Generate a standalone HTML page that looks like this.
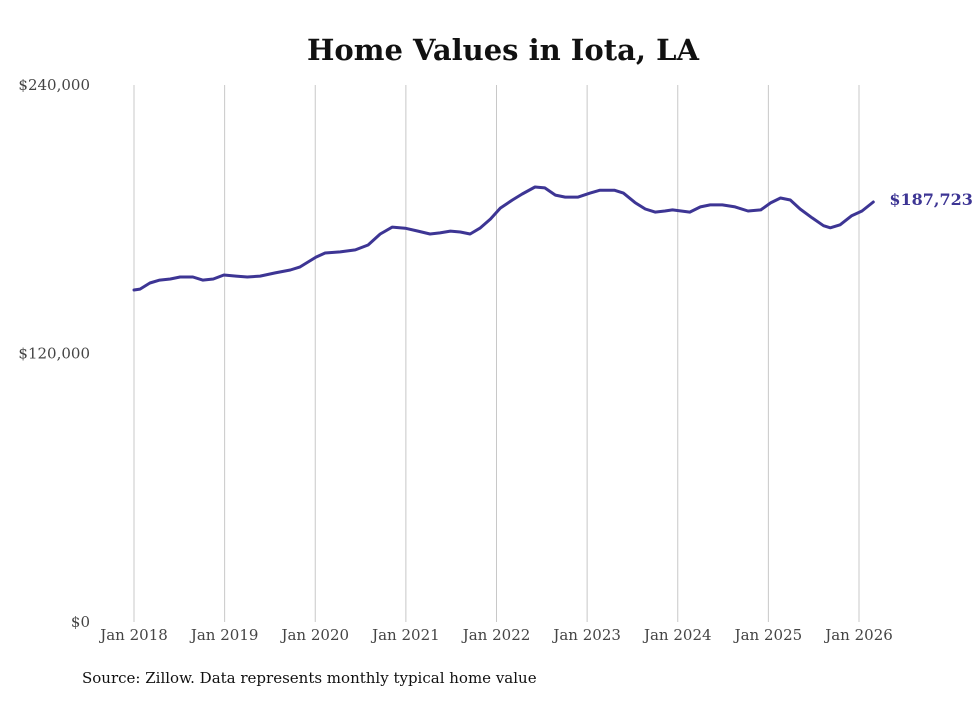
<!DOCTYPE html>
<html><head><meta charset="utf-8"><style>
body{margin:0;background:#fff;font-family:"DejaVu Serif","Liberation Serif",serif;}
svg text{font-family:"DejaVu Serif","Liberation Serif",serif;}
</style></head><body>
<svg id="chart" width="980" height="699">
<text x="503" y="60" text-anchor="middle" font-size="29" font-weight="bold" fill="#111">Home Values in Iota, LA</text>
<g id="grid"></g><g id="yaxis"></g><g id="xaxis"></g>
<path id="line" fill="none" stroke="#3d3594" stroke-width="3" stroke-linejoin="round" stroke-linecap="round"></path>
<text id="endlabel" font-size="16" font-weight="bold" fill="#3d3594"></text>
<text x="82" y="683" font-size="15" fill="#111">Source: Zillow. Data represents monthly typical home value</text>
</svg>
<script>
const months=[0,0.8,2.1,3.4,4.8,6.1,7.8,9.1,10.5,11.9,13.5,15,16.7,18.7,20.7,22,24.1,25.3,27.3,29.3,31,32.6,34.2,35.9,37.6,39.2,40.5,41.9,43.2,44.5,45.8,47.2,48.5,50.1,51.4,53.1,54.4,55.8,57.1,58.8,60.4,61.7,63.6,64.8,66.4,67.7,69,70.3,71.3,73.6,75,76.3,77.9,79.6,81.3,83,84.3,85.6,86.9,88.2,89.8,91.3,92.2,93.5,95,96.4,97.9];
const values=[148.4,148.8,151.5,152.8,153.3,154.2,154.2,152.8,153.3,155.1,154.6,154.2,154.6,156.0,157.3,158.7,163.1,164.9,165.4,166.3,168.5,173.4,176.5,176.0,174.7,173.4,173.9,174.7,174.3,173.4,176.0,180.1,185.0,188.6,191.3,194.4,194.0,190.8,189.9,189.9,191.7,193.0,193.0,191.7,187.3,184.6,183.2,183.7,184.2,183.2,185.5,186.4,186.4,185.5,183.7,184.2,187.3,189.5,188.6,184.6,180.6,177.1,176.2,177.5,181.5,183.7,187.7];
const yTicks=[0,120000,240000];
const yTickLabels=["$0","$120,000","$240,000"];
const xTicks=[0,12,24,36,48,60,72,84,96];
const xTickLabels=["Jan 2018","Jan 2019","Jan 2020","Jan 2021","Jan 2022","Jan 2023","Jan 2024","Jan 2025","Jan 2026"];
const lastLabel="$187,723";
const NS="http://www.w3.org/2000/svg";
const x=m=>134+m*(725/96);
const y=v=>622-v*(537/240000);
const grid=document.getElementById('grid'),xa=document.getElementById('xaxis'),ya=document.getElementById('yaxis');
xTicks.forEach((m,i)=>{
 const l=document.createElementNS(NS,'line');
 l.setAttribute('x1',x(m));l.setAttribute('x2',x(m));l.setAttribute('y1',85);l.setAttribute('y2',622);
 l.setAttribute('stroke','#c8c8c8');l.setAttribute('stroke-width','1');
 
 
 grid.appendChild(l);
 const t=document.createElementNS(NS,'text');
 t.setAttribute('x',x(m));t.setAttribute('y',640);t.setAttribute('text-anchor','middle');
 t.setAttribute('font-size','15');t.setAttribute('fill','#444');t.textContent=xTickLabels[i];
 
 
 xa.appendChild(t);
});
yTicks.forEach((v,i)=>{
 const t=document.createElementNS(NS,'text');
 t.setAttribute('x',90);t.setAttribute('y',y(v)+5);t.setAttribute('text-anchor','end');
 t.setAttribute('font-size','15');t.setAttribute('fill','#444');t.textContent=yTickLabels[i];
 
 
 ya.appendChild(t);
});
const n=Math.min(months.length,values.length);
let d='';
for(let i=0;i<n;i++){d+=(i?'L':'M')+x(months[i]).toFixed(1)+','+y(values[i]*1000).toFixed(1);}
document.getElementById('line').setAttribute('d',d);
const el=document.getElementById('endlabel');
el.setAttribute('x',x(months[n-1])+16);el.setAttribute('y',y(values[n-1]*1000)+3);
el.textContent=lastLabel;
</script>
</body></html>
